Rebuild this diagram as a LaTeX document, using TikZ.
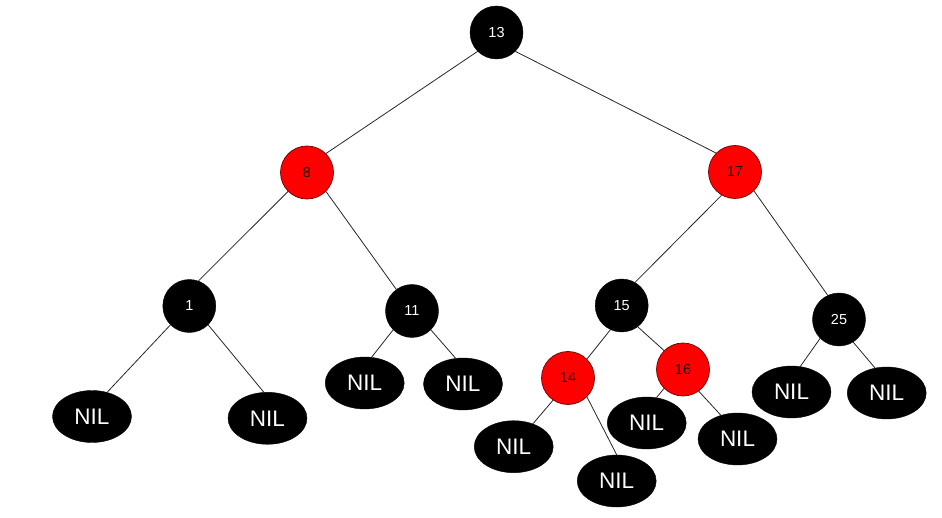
\documentclass[tikz,border=0pt]{standalone}
\usepackage{fontspec}
\setmainfont{Liberation Sans}
\usepackage{tikz}
\usetikzlibrary{shapes.geometric}
\definecolor{rbred}{RGB}{255,0,0}
\definecolor{rbline}{RGB}{110,0,0}
\tikzset{
  blk/.style={circle, fill=black, draw=black, text=white, minimum size=53pt, inner sep=0pt, font=\fontsize{14.5}{16}\selectfont},
  rd/.style={circle, fill=rbred, draw=rbline, line width=0.7pt, text=black!85!red, minimum size=53pt, inner sep=0pt, font=\fontsize{14.5}{16}\selectfont},
  nil/.style={ellipse, fill=black, draw=black, text=white, minimum width=79pt, minimum height=52pt, inner sep=0pt, font=\fontsize{22.5}{24}\selectfont},
  edge/.style={draw=black!85, line width=0.8pt}
}

\begin{document}
\begin{tikzpicture}[x=1pt, y=-1pt]
\useasboundingbox (0,0) rectangle (942,518);
% inner nodes
\node[blk] (n13) at (496.5,32.5) {13};
\node[rd] (n8) at (307,172.5) {8};
\node[rd] (n17) at (735,172) {17};
\node[blk] (n1) at (189.3,306) {1};
\node[blk] (n11) at (412,311) {11};
\node[blk] (n15) at (621.7,305.5) {15};
\node[blk] (n25) at (839,319.5) {25};
\node[rd] (n14) at (568,378) {14};
\node[rd] (n16) at (683,369.5) {16};
% leaves
\node[nil] (nil1l) at (92,416.5) {NIL};
\node[nil] (nil1r) at (267.5,418.3) {NIL};
\node[nil] (nil11l) at (364.7,383) {NIL};
\node[nil] (nil11r) at (463,384) {NIL};
\node[nil] (nil14l) at (513.7,446.7) {NIL};
\node[nil] (nil14r) at (616.7,481) {NIL};
\node[nil] (nil16l) at (646.7,423) {NIL};
\node[nil] (nil16r) at (737.5,439) {NIL};
\node[nil] (nil25l) at (791.5,392) {NIL};
\node[nil] (nil25r) at (886.7,393) {NIL};
% edges
\draw[edge] (n13.south west)--(n8.north east); \draw[edge] (n13.south east)--(n17.north west);
\draw[edge] (n8.south west)--(n1.70); \draw[edge] (n8.south east)--(n11.126);
\draw[edge] (n17.240)--(n15.60); \draw[edge] (n17.south east)--(n25.115);
\draw[edge] (n1.south west)--(nil1l.58); \draw[edge] (n1.south east)--(nil1r.98);
\draw[edge] (n11.south west)--(nil11l.75); \draw[edge] (n11.south east)--(nil11r.106);
\draw[edge] (n15.245)--(n14.north east); \draw[edge] (n15.307)--(n16.north west);
\draw[edge] (n14.236)--(nil14l.50); \draw[edge] (n14.south east)--(nil14r.north);
\draw[edge] (n16.south west)--(nil16l.69); \draw[edge] (n16.306)--(nil16r.125);
\draw[edge] (n25.south west)--(nil25l.71); \draw[edge] (n25.302)--(nil25r.115);
\end{tikzpicture}
\end{document}
